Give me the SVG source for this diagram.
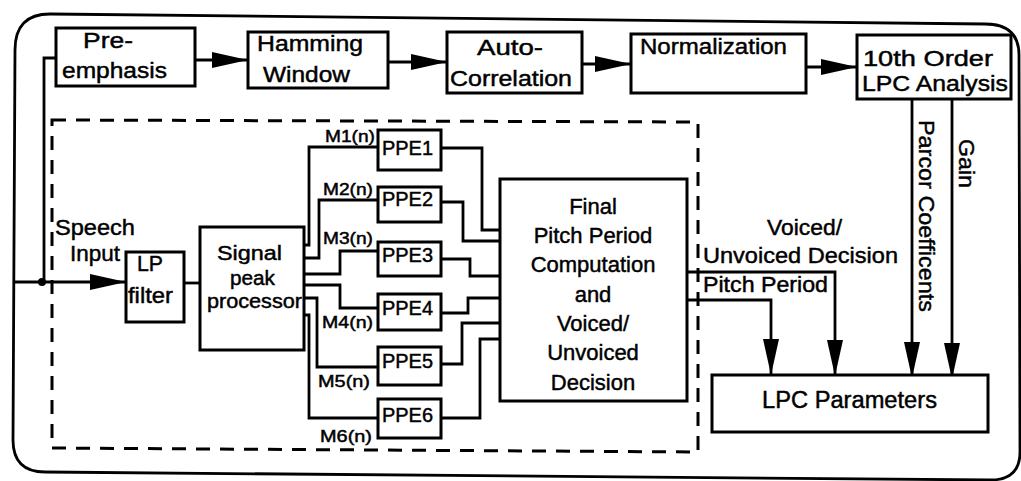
<svg xmlns="http://www.w3.org/2000/svg" width="1021" height="481" viewBox="0 0 1021 481">
<style>
.box{fill:#fff;stroke:#000;stroke-width:3}
.ln{fill:none;stroke:#000;stroke-width:2.8;stroke-linejoin:miter}
.t{font-family:"Liberation Sans",Arial,Helvetica,sans-serif;fill:#000;stroke:#000;stroke-width:0.45}
.b{font-size:22px}
.m{font-size:16px}
.p{font-size:20px}
.c{text-anchor:middle}
</style>
<defs>
<marker id="ah" markerUnits="userSpaceOnUse" markerWidth="37" markerHeight="18" refX="36" refY="8" orient="auto">
<path d="M0,0 L36,8 L0,16 Z" fill="#000"/>
</marker>
</defs>
<rect width="1021" height="481" fill="#fff"/>
<path id="outer" d="M15,50 Q15,14 50,14 L985,24 Q1019,24 1019,55 L1020,452 Q1020,480 990,480 L45,472 Q13,472 13,440 Z" fill="none" stroke="#000" stroke-width="2.8"/>
<path id="dashed" d="M52,120 L698,122 L698,452 L52,448 Z" fill="none" stroke="#000" stroke-width="3" stroke-dasharray="14 10"/>

<g id="connectors">
<path class="ln" d="M15,282 L126,282" marker-end="url(#ah)"/>
<circle cx="42" cy="282" r="4" fill="#000"/>
<path class="ln" d="M44,282 L44,58 L56,58"/>
<path class="ln" d="M195,60 L248,60" marker-end="url(#ah)"/>
<path class="ln" d="M388,62 L447,62" marker-end="url(#ah)"/>
<path class="ln" d="M582,64 L631,64" marker-end="url(#ah)"/>
<path class="ln" d="M806,67 L857,67" marker-end="url(#ah)"/>
<path class="ln" d="M184,283 L200,283"/>
<path class="ln" d="M304,245 L309,245 L309,147 L378,147"/>
<path class="ln" d="M304,258 L319,258 L319,200 L378,200"/>
<path class="ln" d="M304,274 L340,274 L340,251 L378,251"/>
<path class="ln" d="M304,285 L340,285 L340,308 L378,308"/>
<path class="ln" d="M304,298 L317,298 L317,367 L378,367"/>
<path class="ln" d="M304,315 L309,315 L309,418 L378,418"/>
<path class="ln" d="M441,148 L482,148 L482,230 L500,230"/>
<path class="ln" d="M441,202 L463,202 L463,241 L500,241"/>
<path class="ln" d="M441,259 L470,259 L470,276 L500,276"/>
<path class="ln" d="M441,313 L468,313 L468,298 L500,298"/>
<path class="ln" d="M441,364 L462,364 L462,323 L500,323"/>
<path class="ln" d="M441,418 L480,418 L480,339 L500,339"/>
<path class="ln" d="M687,272 L835,272 L835,376" marker-end="url(#ah)"/>
<path class="ln" d="M687,300 L771,300 L771,375" marker-end="url(#ah)"/>
<path class="ln" d="M912,99 L912,378" marker-end="url(#ah)"/>
<path class="ln" d="M952,99 L952,379" marker-end="url(#ah)"/>
</g>

<g id="preemphasis">
<rect class="box" x="56" y="28" width="139" height="58"/>
<text class="t b" x="83" y="48" textLength="50" lengthAdjust="spacingAndGlyphs">Pre-</text>
<text class="t b" x="62" y="78" textLength="105" lengthAdjust="spacingAndGlyphs">emphasis</text>
</g>
<g id="hamming">
<rect class="box" x="248" y="32" width="140" height="56"/>
<text class="t b" x="257" y="51" textLength="106" lengthAdjust="spacingAndGlyphs">Hamming</text>
<text class="t b" x="263" y="82" textLength="87" lengthAdjust="spacingAndGlyphs">Window</text>
</g>
<g id="autocorrelation">
<rect class="box" x="447" y="32" width="135" height="61"/>
<text class="t b" x="477" y="55" textLength="66" lengthAdjust="spacingAndGlyphs">Auto-</text>
<text class="t b" x="450" y="86" textLength="122" lengthAdjust="spacingAndGlyphs">Correlation</text>
</g>
<g id="normalization">
<rect class="box" x="631" y="34" width="175" height="59"/>
<text class="t b" x="640" y="54" textLength="147" lengthAdjust="spacingAndGlyphs">Normalization</text>
</g>
<g id="lpcanalysis">
<rect class="box" x="857" y="35" width="154" height="64"/>
<text class="t b" x="863" y="66" textLength="130" lengthAdjust="spacingAndGlyphs">10th Order</text>
<text class="t b" x="862" y="91" textLength="146" lengthAdjust="spacingAndGlyphs">LPC Analysis</text>
</g>
<g id="speechinput">
<text class="t b" x="55" y="235" textLength="80" lengthAdjust="spacingAndGlyphs">Speech</text>
<text class="t b" x="70" y="261" textLength="50" lengthAdjust="spacingAndGlyphs">Input</text>
</g>
<g id="lpfilter">
<rect class="box" x="126" y="252" width="58" height="70"/>
<text class="t b" x="137" y="271" textLength="26" lengthAdjust="spacingAndGlyphs">LP</text>
<text class="t b" x="128" y="303" textLength="45" lengthAdjust="spacingAndGlyphs">filter</text>
</g>
<g id="signalpeak">
<rect class="box" x="200" y="227" width="104" height="123"/>
<text class="t p" x="217" y="260" textLength="65" lengthAdjust="spacingAndGlyphs">Signal</text>
<text class="t p" x="230" y="285" textLength="45" lengthAdjust="spacingAndGlyphs">peak</text>
<text class="t p" x="207" y="308" textLength="95" lengthAdjust="spacingAndGlyphs">processor</text>
</g>
<g id="mlabels">
<text class="t m" x="325" y="142" textLength="50" lengthAdjust="spacingAndGlyphs">M1(n)</text>
<text class="t m" x="323" y="195" textLength="50" lengthAdjust="spacingAndGlyphs">M2(n)</text>
<text class="t m" x="323" y="244" textLength="50" lengthAdjust="spacingAndGlyphs">M3(n)</text>
<text class="t m" x="322" y="328" textLength="51" lengthAdjust="spacingAndGlyphs">M4(n)</text>
<text class="t m" x="318" y="387" textLength="52" lengthAdjust="spacingAndGlyphs">M5(n)</text>
<text class="t m" x="320" y="442" textLength="52" lengthAdjust="spacingAndGlyphs">M6(n)</text>
</g>
<g id="ppe1"><rect class="box" x="378" y="130" width="63" height="40"/><text class="t p" x="382" y="155" textLength="51" lengthAdjust="spacingAndGlyphs">PPE1</text></g>
<g id="ppe2"><rect class="box" x="378" y="187" width="63" height="35"/><text class="t p" x="382" y="206" textLength="51" lengthAdjust="spacingAndGlyphs">PPE2</text></g>
<g id="ppe3"><rect class="box" x="378" y="242" width="63" height="34"/><text class="t p" x="382" y="262" textLength="51" lengthAdjust="spacingAndGlyphs">PPE3</text></g>
<g id="ppe4"><rect class="box" x="378" y="294" width="63" height="36"/><text class="t p" x="382" y="315" textLength="51" lengthAdjust="spacingAndGlyphs">PPE4</text></g>
<g id="ppe5"><rect class="box" x="378" y="347" width="63" height="38"/><text class="t p" x="382" y="368" textLength="51" lengthAdjust="spacingAndGlyphs">PPE5</text></g>
<g id="ppe6"><rect class="box" x="378" y="399" width="63" height="39"/><text class="t p" x="382" y="422" textLength="51" lengthAdjust="spacingAndGlyphs">PPE6</text></g>
<g id="final">
<rect class="box" x="500" y="179" width="187" height="222"/>
<text class="t b c" x="593" y="214">Final</text>
<text class="t b c" x="593" y="243">Pitch Period</text>
<text class="t b c" x="593" y="272">Computation</text>
<text class="t b c" x="593" y="302">and</text>
<text class="t b c" x="593" y="331">Voiced/</text>
<text class="t b c" x="593" y="360">Unvoiced</text>
<text class="t b c" x="593" y="390">Decision</text>
</g>
<g id="outlabels">
<text class="t b" x="767" y="235" textLength="75" lengthAdjust="spacingAndGlyphs">Voiced/</text>
<text class="t b" x="703" y="263" textLength="195" lengthAdjust="spacingAndGlyphs">Unvoiced Decision</text>
<text class="t b" x="703" y="292" textLength="125" lengthAdjust="spacingAndGlyphs">Pitch Period</text>
<text class="t b" transform="translate(919,120) rotate(90)" x="0" y="0" textLength="192" lengthAdjust="spacingAndGlyphs">Parcor Coefficents</text>
<text class="t b" transform="translate(959,139) rotate(90)" x="0" y="0" textLength="49" lengthAdjust="spacingAndGlyphs">Gain</text>
</g>
<g id="lpcparams">
<rect class="box" x="712" y="375" width="276" height="57"/>
<text class="t" style="font-size:23px" x="762" y="408" textLength="175" lengthAdjust="spacingAndGlyphs">LPC Parameters</text>
</g>
</svg>
